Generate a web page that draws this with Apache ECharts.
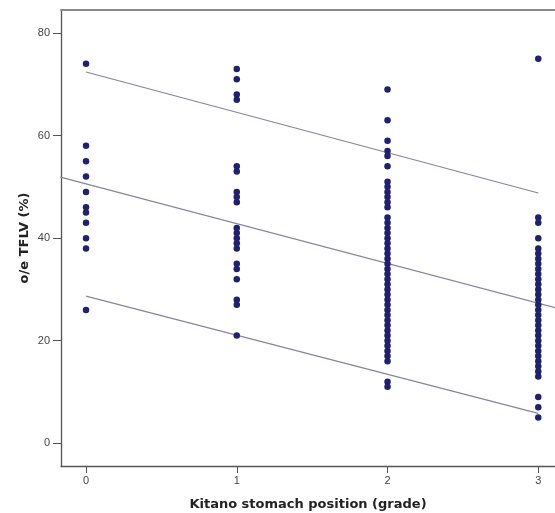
<!DOCTYPE html>
<html>
<head>
<meta charset="utf-8">
<script src="https://cdn.jsdelivr.net/npm/echarts@6/dist/echarts.min.js"></script>
<style>html,body{margin:0;padding:0;background:#fff}#c{width:555px;height:513px}</style>
</head>
<body>
<div id="c"></div>
<script>
// Kitano stomach position grades
var grades = [0, 1, 2, 3];
// o/e TFLV (%) observations per grade
var grade0 = [74, 58, 55, 52, 49, 46, 45, 43, 40, 38, 26];
var grade1 = [73, 71, 68, 67, 54, 53, 49, 48, 47, 42, 41, 40, 39, 38, 35, 34, 32, 28, 27, 21];
var grade2 = [69, 63, 59, 57, 56, 54, 51, 50, 49, 48, 47, 46,
  44, 43, 42, 41, 40, 39, 38, 37, 36, 35, 34, 33, 32, 31, 30, 29, 28, 27, 26, 25, 24, 23, 22, 21, 20, 19, 18, 17, 16,
  12, 11];
var grade3 = [75, 44, 43, 40, 38, 37, 36, 35, 34, 33, 32, 31, 30, 29, 28, 27, 26, 25, 24, 23, 22, 21, 20, 19, 18, 17, 16, 15, 14, 13,
  9, 7, 5];
// regression fit line and prediction interval lines: [grade, value]
var fitLine = [[-0.17, 51.9], [3.17, 26.0]];
var upperLine = [[0, 72.4], [3, 48.8]];
var lowerLine = [[0, 28.7], [3, 5.8]];
// tick labels
var yTicks = [0, 20, 40, 60, 80];
var xTicks = [0, 1, 2, 3];

var groups = [grade0, grade1, grade2, grade3];
var points = [];
groups.forEach(function (g, i) {
  g.forEach(function (v) { points.push([grades[i], v]); });
});

var lineColor = '#8585a2';
var chart = echarts.init(document.getElementById('c'), null, {renderer: 'canvas'});
chart.setOption({
  backgroundColor: '#fff',
  animation: false,
  grid: {left: 61, top: 10, right: 0, height: 456, show: false, containLabel: false, outerBoundsMode: 'none'},
  xAxis: [{
    type: 'value', min: -0.166, max: 3.111,
    name: 'Kitano stomach position (grade)', nameLocation: 'middle', nameGap: 32,
    nameTextStyle: {fontFamily: 'DejaVu Sans', fontWeight: 'bold', fontSize: 13, color: '#222'},
    axisLine: {show: true, onZero: false, lineStyle: {color: '#555', width: 1.3}},
    axisTick: {show: true, length: 7, customValues: xTicks, lineStyle: {color: '#555'}},
    axisLabel: {customValues: xTicks, fontFamily: 'Liberation Sans', fontSize: 11, color: '#444', margin: 9},
    splitLine: {show: false}
  }, {
    type: 'value', position: 'top', min: -0.166, max: 3.111,
    axisLine: {show: true, onZero: false, lineStyle: {color: '#8a8a8a', width: 2}},
    axisTick: {show: false}, axisLabel: {show: false}, splitLine: {show: false}
  }],
  yAxis: {
    type: 'value', min: -4.45, max: 84.5,
    name: 'o/e TFLV (%)', nameLocation: 'middle', nameGap: 30, nameRotate: 90, nameMoveOverlap: false,
    nameTextStyle: {fontFamily: 'DejaVu Sans', fontWeight: 'bold', fontSize: 13, color: '#222'},
    axisLine: {show: true, onZero: false, lineStyle: {color: '#555', width: 1.3}},
    axisTick: {show: true, length: 8, customValues: yTicks, lineStyle: {color: '#555'}},
    axisLabel: {customValues: yTicks, fontFamily: 'Liberation Sans', fontSize: 11, color: '#444', margin: 11},
    splitLine: {show: false}
  },
  series: [
    {type: 'line', data: fitLine, symbol: 'none', lineStyle: {color: lineColor, width: 1.2}, silent: true, z: 1, clip: true},
    {type: 'line', data: upperLine, symbol: 'none', lineStyle: {color: lineColor, width: 1.2}, silent: true, z: 1},
    {type: 'line', data: lowerLine, symbol: 'none', lineStyle: {color: lineColor, width: 1.2}, silent: true, z: 1},
    {type: 'scatter', data: points, symbol: 'circle', symbolSize: 6.5, itemStyle: {color: '#1f2070', opacity: 1}, z: 2}
  ]
});
</script>
</body>
</html>
